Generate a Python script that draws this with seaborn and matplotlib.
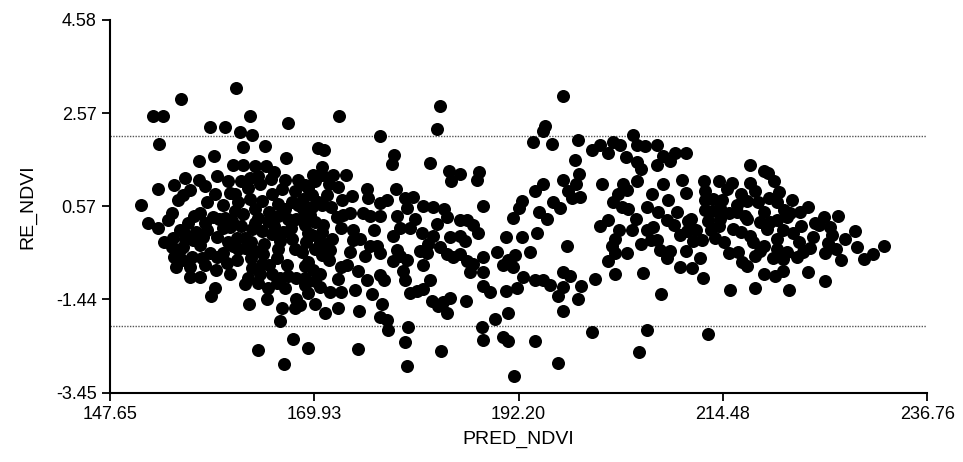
import matplotlib
matplotlib.use("Agg")
import matplotlib.pyplot as plt
import seaborn as sns
import pandas as pd

# values (PRED_NDVI vs RE_NDVI)

# left cloud, 150-163
pred_left = [161.4, 155.4, 152.4, 153.5, 162.9, 158.6, 160.2, 161.8, 163.1, 167.1,
             153.0, 162.2, 164.6, 166.9, 159.0, 157.4, 161.1, 162.2, 163.5, 164.7,
             165.6, 155.9, 157.4, 159.3, 154.7, 152.9, 156.4, 155.6, 155.1, 159.1,
             160.7, 161.3, 151.1, 154.4, 154.0, 151.8, 152.9, 157.5, 156.2, 155.3,
             154.5, 153.6, 157.1, 158.2, 158.9, 159.6, 160.0, 159.3, 156.0, 156.7,
             157.5, 155.6, 154.7, 155.3, 157.7, 156.6, 158.6, 159.3, 160.4, 154.9,
             156.4, 156.4, 159.2, 159.1, 158.7, 154.4, 161.3, 162.2, 160.2, 160.7,
             161.5, 162.4, 161.1, 161.6, 162.4, 162.7, 162.4, 162.7, 162.9, 163.8]
resid_left = [3.12, 2.88, 2.51, 2.50, 2.52, 2.27, 2.27, 2.16, 2.11, 2.36,
              1.91, 1.84, 1.87, 1.61, 1.65, 1.53, 1.45, 1.45, 1.43, 1.44,
              1.31, 1.17, 1.14, 1.22, 1.02, 0.94, 0.91, 0.81, 0.70, 0.82,
              0.86, 0.83, 0.59, 0.43, 0.28, 0.20, 0.09, 0.42, 0.21, 0.06,
              -0.11, -0.21, 0.01, 0.05, 0.33, 0.30, 0.09, -0.10, -0.05, -0.16,
              -0.27, -0.31, -0.52, -0.37, -0.55, -0.52, -0.44, -0.53, -0.66, -0.75,
              -0.74, -0.95, -0.81, -1.20, -1.36, -0.32, 0.47, 0.40, 0.32, 0.11,
              -0.11, -0.11, -0.28, -0.35, -0.33, -0.97, -1.10, 0.96, 1.17, 1.21]

# 163-174
pred_mid1 = [166.7, 166.4, 168.2, 168.9, 170.0, 170.8, 162.9, 164.2, 165.3, 166.0,
             167.5, 168.2, 168.7, 169.7, 170.3, 163.8, 164.9, 166.0, 167.1, 168.0,
             163.1, 164.2, 165.3, 166.5, 166.2, 168.9, 170.0, 170.8, 169.7, 163.5,
             164.3, 165.9, 167.8, 168.6, 169.2, 168.9, 170.0, 170.8, 163.1, 164.2,
             165.3, 166.2, 167.1, 168.0, 163.8, 164.9, 165.9, 168.9, 169.2, 164.8,
             168.0, 170.6, 162.8, 166.4, 167.8, 168.4, 166.2, 167.6, 163.8, 166.6,
             169.2, 169.8, 170.8, 172.0, 173.4, 172.5, 171.3, 170.3, 171.0, 172.6,
             170.8, 169.7, 168.7, 169.5, 170.9, 170.6, 170.6, 168.9, 170.0, 171.1,
             172.5]
resid_mid1 = [1.14, 0.94, 1.13, 1.02, 1.12, 1.23, 0.72, 0.67, 0.82, 0.62,
              0.66, 0.60, 0.72, 0.81, 0.65, 0.31, 0.24, 0.35, 0.30, 0.30,
              0.08, 0.03, -0.04, 0.02, -0.19, 0.17, 0.23, 0.01, -0.05, -0.39,
              -0.46, -0.55, -0.35, -0.41, -0.63, -0.73, -0.35, -0.48, -0.76, -0.67,
              -0.89, -0.98, -0.94, -0.99, -1.08, -1.19, -1.09, -1.12, -1.31, -1.43,
              -1.44, -1.17, -1.53, -1.62, -1.63, -1.56, -1.90, -2.29, -2.52, -2.83,
              -2.49, 1.23, 1.42, 1.23, 1.24, 0.99, 0.80, 1.83, 1.77, 2.51,
              0.59, 0.55, 0.51, 0.38, 0.16, -0.20, -0.89, -0.99, -1.53, -1.74,
              -1.62]

# packed middle of the left cloud, where the dots merge
pred_dense = [158.0, 160.5, 162.0, 164.0, 165.2, 167.8, 169.3, 171.5,
              158.3, 160.0, 161.6, 163.5, 165.0, 166.8, 169.0, 171.8,
              156.8, 158.0, 161.0, 162.0, 163.5, 165.6, 167.4, 169.2,
              155.8, 157.8, 160.5, 163.0, 164.5, 166.0, 167.5, 169.0, 171.2,
              155.5, 158.0, 160.0, 161.5, 163.0, 165.0, 167.0, 169.8, 171.5,
              157.5, 160.8, 164.0, 166.8, 170.0,
              172.8, 173.5, 175.5, 173.0, 176.5]
resid_dense = [1.00, 1.10, 1.10, 1.05, 1.15, 0.90, 0.95, 1.05,
               0.65, 0.60, 0.65, 0.50, 0.45, 0.50, 0.40, 0.55,
               0.35, 0.20, 0.25, 0.15, 0.20, 0.15, 0.10, 0.00,
               -0.15, -0.10, -0.20, -0.20, -0.25, -0.35, -0.15, -0.20, -0.25,
               -0.60, -0.70, -0.45, -0.60, -0.55, -0.70, -0.70, -0.80, -0.60,
               -0.95, -0.90, -0.90, -1.20, -1.05,
               0.10, -0.70, -0.50, 0.70, 0.05]

# 171-191
pred_mid2 = [174.8, 177.3, 177.1, 177.9, 178.0, 180.1, 179.8, 180.0, 174.7, 183.7,
             180.4, 181.1, 181.8, 182.8, 183.4, 184.0, 184.7, 184.4, 186.5, 188.2,
             188.3, 189.6, 190.5, 191.1, 188.3, 189.1, 190.8, 191.1, 188.3, 188.3,
             189.9, 190.8, 187.2, 186.9, 182.6, 179.6, 179.8, 177.1, 177.5, 176.2,
             174.7, 175.7, 174.4, 172.9, 172.5, 172.9, 171.6, 176.0, 176.8, 177.1,
             179.0, 179.3, 180.0, 178.5, 181.5, 182.2, 181.8, 183.6, 184.4, 185.1,
             185.8, 186.6, 184.7, 185.8, 186.4, 185.8, 186.6, 187.2, 187.8, 183.3,
             184.4, 182.9, 181.7, 182.3, 180.9, 180.4, 179.0, 179.3, 178.5, 180.0,
             177.1, 176.0, 175.2, 172.4, 173.1, 173.8, 174.2, 174.2, 174.9, 173.8,
             171.9, 171.6, 183.6, 183.3, 177.1, 178.6, 178.4, 182.6, 184.6, 185.8,
             184.8, 187.9, 187.7, 175.7, 175.8, 178.8, 174.0, 177.1, 177.9, 179.8,
             180.7, 181.8, 182.9, 184.1, 188.3]
resid_mid2 = [-1.69, -1.55, -1.83, -1.89, -2.09, -2.03, -2.35, -2.87, -2.51, -2.56,
              -1.30, -1.26, -1.22, -1.48, -1.59, -1.49, -1.42, -1.74, -1.47, -2.04,
              -2.31, -1.87, -2.25, -2.34, -1.16, -1.29, -1.27, -1.74, -0.52, -0.86,
              -0.43, -0.09, -0.68, -0.85, -1.03, -0.83, -1.02, -0.91, -1.02, -1.33,
              -0.82, -1.03, -1.24, -0.75, -1.00, -1.28, -1.28, -0.29, -0.28, -0.44,
              -0.38, -0.51, -0.60, -0.61, -0.39, -0.45, -0.71, -0.31, -0.46, -0.53,
              -0.46, -0.62, -0.10, -0.08, -0.19, 0.28, 0.28, 0.17, 0.00, 0.19,
              0.33, -0.07, -0.02, -0.24, 0.30, 0.09, 0.35, 0.09, -0.08, 0.52,
              0.35, 0.36, 0.43, 0.33, 0.37, 0.43, 0.06, -0.17, -0.15, -0.43,
              -0.14, -0.38, 2.73, 2.24, 2.07, 1.68, 1.48, 1.49, 1.32, 1.25,
              1.12, 1.31, 1.13, 0.94, 0.74, 0.93, 0.79, 0.63, 0.70, 0.75,
              0.77, 0.58, 0.55, 0.50, 0.58]

# 190-213
pred_mid3 = [197.0, 195.1, 194.9, 193.8, 195.9, 198.7, 200.2, 201.1, 201.9, 202.5,
             203.3, 204.7, 205.1, 206.0, 207.3, 203.9, 205.1, 205.5, 207.3, 208.0,
             208.7, 209.3, 210.4, 198.4, 198.8, 197.0, 198.5, 194.9, 194.0, 197.6,
             198.0, 198.9, 201.3, 203.6, 205.1, 204.0, 203.0, 202.5, 203.5, 204.1,
             206.8, 207.9, 210.0, 210.5, 212.4, 212.5, 192.6, 192.3, 194.4, 196.0,
             196.7, 206.2, 207.4, 191.6, 195.3, 194.2, 192.6, 193.5, 191.0, 191.8,
             190.5, 191.6, 192.7, 194.0, 194.9, 195.6, 192.0, 197.5, 197.1, 197.8,
             197.0, 196.5, 199.0, 198.7, 197.1, 200.5, 202.7, 201.9, 202.7, 202.4,
             202.7, 203.1, 201.1, 201.9, 204.6, 205.8, 205.5, 206.6, 206.2, 206.9,
             207.3, 207.6, 208.4, 208.7, 209.1, 208.4, 209.8, 210.6, 210.7, 210.4,
             209.8, 211.1, 211.2, 212.0, 212.2, 212.3, 212.5, 207.7, 200.2, 206.2,
             212.9, 194.0, 205.3, 196.5, 191.7,
             208.5, 209.5, 211.0, 205.0, 204.0, 211.5]
resid_mid3 = [2.93, 2.29, 2.18, 1.95, 1.90, 2.00, 1.78, 1.89, 1.71, 1.95,
              1.88, 2.09, 1.89, 1.87, 1.89, 1.62, 1.51, 1.36, 1.46, 1.65,
              1.54, 1.71, 1.71, 1.57, 1.27, 1.13, 1.04, 1.05, 0.90, 0.89,
              0.74, 0.76, 1.05, 1.04, 1.10, 0.91, 0.83, 0.66, 0.55, 0.50,
              0.84, 1.05, 1.13, 0.85, 1.12, 0.69, 0.67, 0.52, 0.45, 0.66,
              0.53, 0.56, 0.45, 0.31, 0.30, 0.00, -0.10, -0.42, -0.59, -0.48,
              -0.69, -0.74, -0.96, -1.03, -1.03, -1.14, -1.19, -0.29, -0.86, -0.93,
              -1.18, -1.36, -1.15, -1.43, -1.68, -1.00, -0.90, -0.62, -0.45, -0.30,
              -0.13, 0.06, 0.13, 0.28, 0.05, -0.87, -0.25, -0.17, 0.05, 0.11,
              -0.17, -0.38, -0.54, -0.39, 0.17, 0.26, -0.05, 0.04, 0.25, -0.39,
              -0.75, -0.76, -0.18, -0.55, -0.16, -0.98, 0.48, -1.33, -2.14, -2.09,
              -2.18, -2.33, -2.58, -2.81, -3.10,
              0.70, 0.45, 0.30, 0.30, -0.45, 0.05]

# right cloud, 212-232
pred_right = [217.4, 218.9, 219.4, 217.4, 220.0, 220.6, 214.0, 215.5, 214.9, 216.4,
              217.1, 218.3, 212.5, 213.4, 214.4, 220.4, 221.1, 221.8, 222.9, 225.5,
              213.3, 214.2, 215.1, 216.0, 216.9, 213.6, 215.1, 216.1, 216.6, 217.1,
              218.0, 218.5, 218.9, 220.2, 221.0, 215.3, 218.0, 221.7, 223.8, 225.6,
              221.5, 221.0, 222.6, 223.2, 224.0, 224.3, 224.9, 225.6, 225.9, 226.4,
              226.2, 227.3, 227.8, 228.9, 229.1, 229.8, 230.8, 232.0, 215.6, 216.4,
              217.4, 217.8, 219.3, 219.6, 220.4, 221.5, 222.1, 220.4, 220.4, 218.9,
              218.5, 217.1, 214.2, 214.0, 212.8,
              218.0, 219.5, 216.0, 219.0, 222.0, 223.8, 224.5, 223.0, 221.0, 219.9,
              222.8, 214.6, 213.2, 227.0, 226.8]
resid_right = [1.45, 1.32, 1.29, 1.06, 1.12, 0.88, 1.10, 1.07, 0.94, 0.83,
               0.68, 0.65, 0.89, 0.73, 0.69, 0.65, 0.49, 0.43, 0.45, 0.33,
               0.46, 0.52, 0.41, 0.45, 0.36, -0.12, -0.45, -0.41, -0.63, -0.73,
               -0.50, -0.40, -0.89, -0.94, -0.83, -1.24, -1.19, -1.24, -0.86, -1.04,
               -0.41, -0.58, -0.52, -0.43, -0.33, -0.09, 0.16, -0.44, -0.23, -0.06,
               0.12, -0.60, -0.13, 0.04, -0.32, -0.58, -0.46, -0.29, 0.08, 0.02,
               -0.07, -0.20, 0.07, 0.22, 0.28, 0.34, 0.00, -0.15, -0.36, -0.29,
               0.22, 0.29, 0.30, 0.13, 0.24,
               0.90, 0.75, 0.60, 0.45, 0.70, 0.55, 0.20, 0.15, 0.05, -0.55,
               -0.20, -0.20, 0.05, 0.35, -0.35]

upper_band = 2.07
lower_band = -2.01

x_ticks = [147.65, 169.93, 192.20, 214.48, 236.76]
y_ticks = [4.58, 2.57, 0.57, -1.44, -3.45]

df = pd.DataFrame({
    "PRED_NDVI": pred_left + pred_mid1 + pred_dense + pred_mid2 + pred_mid3 + pred_right,
    "RE_NDVI": resid_left + resid_mid1 + resid_dense + resid_mid2 + resid_mid3 + resid_right,
})

sns.set_style("ticks")
plt.rcParams["font.family"] = ["Liberation Sans", "DejaVu Sans"]

fig = plt.figure(figsize=(9.63, 4.62), dpi=100)
ax = fig.add_axes([0.114, 0.150, 0.849, 0.807])

sns.scatterplot(data=df, x="PRED_NDVI", y="RE_NDVI", color="black",
                s=88, linewidth=0, ax=ax, zorder=3)

for yv in (upper_band, lower_band):
    ax.axhline(yv, color="#555555", lw=1.0, ls=(0, (1, 1)), zorder=2)

ax.set_xlim(x_ticks[0], x_ticks[-1])
ax.set_ylim(y_ticks[-1], y_ticks[0])
ax.set_xticks(x_ticks)
ax.set_xticklabels([f"{t:.2f}" for t in x_ticks])
ax.set_yticks(y_ticks)
ax.set_yticklabels([f"{t:.2f}" for t in y_ticks])

sns.despine(ax=ax)
for side in ("left", "bottom"):
    ax.spines[side].set_linewidth(1.5)
    ax.spines[side].set_color("black")
ax.tick_params(direction="out", length=6, width=1.3, labelsize=13, colors="black")

ax.set_xlabel("PRED_NDVI", fontsize=14, labelpad=6, color="black")
ax.set_ylabel("RE_NDVI", fontsize=14, labelpad=14, color="black")

fig.savefig("out.png", dpi=100)
